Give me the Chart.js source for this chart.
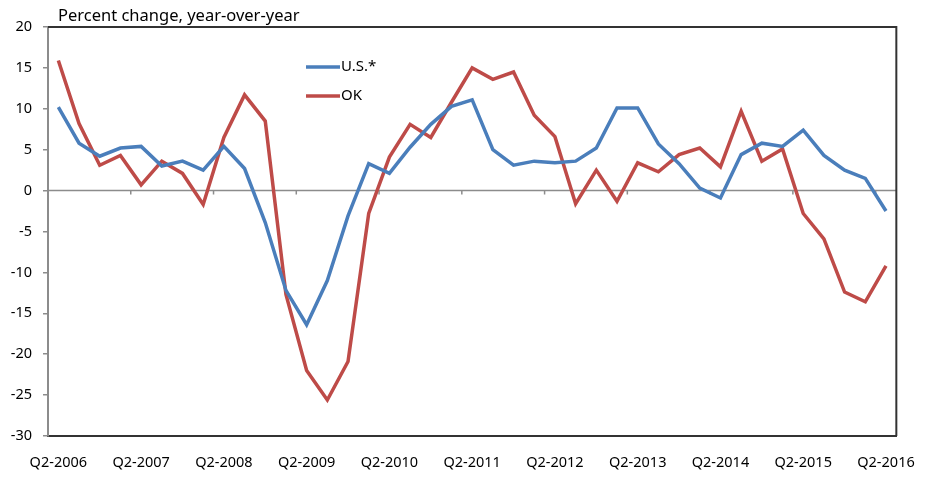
<!DOCTYPE html>
<html lang="en">
<head>
  <meta charset="UTF-8">
  <title>Percent change, year-over-year</title>
  <script src="https://cdn.jsdelivr.net/npm/chart.js"></script>
  <style>
    html, body { margin: 0; padding: 0; background: #fff; }
    #wrap { width: 925px; height: 493px; }
  </style>
</head>
<body>
  <div id="wrap"><canvas id="jobsChart" width="925" height="493"></canvas></div>

  <script>
    // quarterly labels, Q2-2006 .. Q2-2016
    const quarters = [
      'Q2-2006','Q3-2006','Q4-2006','Q1-2007','Q2-2007','Q3-2007','Q4-2007','Q1-2008',
      'Q2-2008','Q3-2008','Q4-2008','Q1-2009','Q2-2009','Q3-2009','Q4-2009','Q1-2010',
      'Q2-2010','Q3-2010','Q4-2010','Q1-2011','Q2-2011','Q3-2011','Q4-2011','Q1-2012',
      'Q2-2012','Q3-2012','Q4-2012','Q1-2013','Q2-2013','Q3-2013','Q4-2013','Q1-2014',
      'Q2-2014','Q3-2014','Q4-2014','Q1-2015','Q2-2015','Q3-2015','Q4-2015','Q1-2016',
      'Q2-2016'
    ];

    // U.S.* percent change
    const usValues = [
      10.2, 5.8, 4.2, 5.2, 5.4, 3.0, 3.6, 2.5,
      5.4, 2.7, -3.9, -12.2, -16.4, -11.0, -3.1, 3.3,
      2.1, 5.3, 8.1, 10.3, 11.1, 5.0, 3.1, 3.6,
      3.4, 3.6, 5.2, 10.1, 10.1, 5.7, 3.3, 0.3,
      -0.9, 4.4, 5.8, 5.4, 7.4, 4.3, 2.5, 1.5,
      -2.5
    ];

    // OK percent change
    const okValues = [
      15.9, 8.2, 3.1, 4.3, 0.7, 3.6, 2.1, -1.7,
      6.5, 11.7, 8.5, -12.7, -22.0, -25.6, -20.9, -2.8,
      4.1, 8.1, 6.5, 10.8, 15.0, 13.6, 14.5, 9.2,
      6.6, -1.6, 2.5, -1.3, 3.4, 2.3, 4.4, 5.2,
      2.9, 9.7, 3.6, 5.1, -2.8, -5.9, -12.4, -13.6,
      -9.2
    ];

    const yTicks = [20, 15, 10, 5, 0, -5, -10, -15, -20, -25, -30];

    const FONT = 'Noto Sans';

    // title, in-plot legend, zero-line tick marks and plot frame
    const decorations = {
      id: 'decorations',
      beforeDatasetsDraw(chart) {
        const c = chart.ctx;
        const x = chart.scales.x;
        const y = chart.scales.y;
        const area = chart.chartArea;
        const y0 = y.getPixelForValue(0);
        const step = x.getPixelForValue(1) - x.getPixelForValue(0);
        c.save();
        c.strokeStyle = '#8c8c8c';
        c.lineWidth = 1.5;
        c.beginPath();
        c.moveTo(area.left, y0);
        c.lineTo(area.right, y0);
        for (let i = 4; i <= quarters.length - 1; i += 4) {
          const px = x.getPixelForValue(i) - step / 2;
          c.moveTo(px, y0);
          c.lineTo(px, y0 + 4);
        }
        c.stroke();
        c.restore();
      },
      afterDraw(chart) {
        const c = chart.ctx;
        const area = chart.chartArea;
        c.save();
        // frame: top and right dark
        c.strokeStyle = '#333';
        c.lineWidth = 2;
        c.beginPath();
        c.moveTo(area.left, area.top);
        c.lineTo(area.right, area.top);
        c.lineTo(area.right, area.bottom);
        c.stroke();

        // title
        c.fillStyle = '#000';
        c.font = '16.5px "' + FONT + '"';
        c.textBaseline = 'middle';
        c.textAlign = 'left';
        c.fillText('Percent change, year-over-year', 58, 16);

        // legend
        c.font = '15px "' + FONT + '"';
        chart.data.datasets.forEach((ds, i) => {
          const ly = 67 + i * 29;
          c.strokeStyle = ds.borderColor;
          c.lineWidth = 3.5;
          c.beginPath();
          c.moveTo(306, ly);
          c.lineTo(340, ly);
          c.stroke();
          c.fillStyle = '#000';
          c.fillText(ds.label, 341, ly);
        });
        c.restore();
      }
    };

    const ctx = document.getElementById('jobsChart').getContext('2d');
    const chart = new Chart(ctx, {
      type: 'line',
      data: {
        labels: quarters,
        datasets: [
          {
            label: 'U.S.*',
            data: usValues,
            borderColor: '#4a7ebb',
            borderWidth: 3.5,
            pointRadius: 0,
            tension: 0,
            fill: false
          },
          {
            label: 'OK',
            data: okValues,
            borderColor: '#be4b48',
            borderWidth: 3.5,
            pointRadius: 0,
            tension: 0,
            fill: false
          }
        ]
      },
      options: {
        responsive: false,
        animation: false,
        layout: { padding: { top: 27, right: 23, left: 0, bottom: 0 } },
        plugins: {
          legend: { display: false },
          tooltip: { enabled: false }
        },
        scales: {
          x: {
            offset: true,
            grid: { display: false, offset: true },
            border: { display: true, color: '#333', width: 2 },
            ticks: {
              autoSkip: false,
              maxRotation: 0,
              padding: 10,
              color: '#000',
              font: { family: FONT, size: 14.5 },
              callback: (v, i) => (i % 4 === 0 ? quarters[i] : '')
            },
            afterFit: (s) => { s.height = 57; }
          },
          y: {
            min: -30,
            max: 20,
            afterBuildTicks: (s) => { s.ticks = yTicks.map(v => ({ value: v })); },
            grid: {
              color: 'transparent',
              tickColor: '#8c8c8c',
              tickLength: 5,
              lineWidth: 1.5
            },
            border: { display: true, color: '#8c8c8c', width: 2 },
            ticks: {
              padding: 11,
              color: '#000',
              font: { family: FONT, size: 14.5 }
            },
            afterFit: (s) => { s.width = 48; }
          }
        }
      },
      plugins: [decorations]
    });
  </script>
</body>
</html>
